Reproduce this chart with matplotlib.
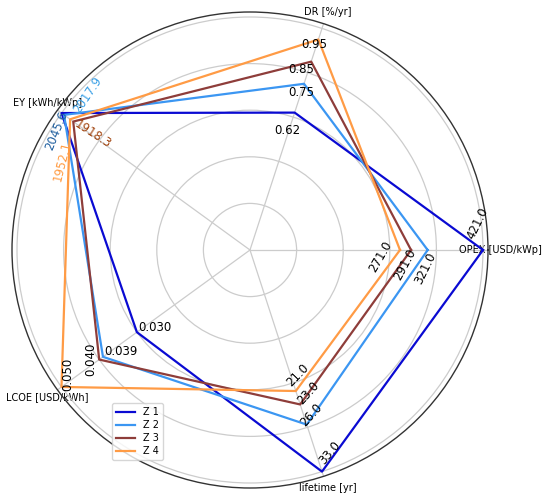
import numpy as np
import matplotlib
matplotlib.use('Agg')
import matplotlib.pyplot as plt

# axes in counter-clockwise order starting at 0 deg
axis_names = ['OPEX [USD/kWp]', 'DR [%/yr]', 'EY [kWh/kWp]', 'LCOE [USD/kWh]', 'lifetime [yr]']
axis_max = [421.0, 1.0, 2045.6, 0.050, 33.0]

series = ['Z 1', 'Z 2', 'Z 3', 'Z 4']
opex = [421.0, 321.0, 291.0, 271.0]
dr = [0.62, 0.75, 0.85, 0.95]
ey = [2045.6, 2017.9, 1918.3, 1952.1]
lcoe = [0.030, 0.039, 0.040, 0.050]
lifetime = [33.0, 26.0, 23.0, 21.0]

colors = ['#0a0ad2', '#3b96f2', '#8e3d3a', '#ff9b45']

# label formats per axis
fmt = ['{:.1f}', '{:.2f}', '{:.1f}', '{:.3f}', '{:.1f}']

# label placement (offset in px: right, down), rotation, color
lab_style = {
    (0, 0): (-5, -27, 64, 'k'), (0, 1): (-2, 18, 64, 'k'), (0, 2): (-6, 15, 62, 'k'), (0, 3): (-19, 7, 60, 'k'),
    (1, 0): (-7, 18, 0, 'k'), (1, 1): (-3, 9, 0, 'k'), (1, 2): (-10, 8, 0, 'k'), (1, 3): (-4.5, 5.5, 0, 'k'),
    (2, 0): (-5, 18, 68, '#1f5f9f'), (2, 1): (24, -20, 56, '#3aa0e6'), (2, 2): (20, 12.5, -33, '#a0420c'), (2, 3): (-8, 42, 76, '#ff9a40'),
    (3, 0): (18, -5, 0, 'k'), (3, 1): (18, -5, 0, 'k'), (3, 2): (-8, 0, 90, 'k'), (3, 3): (6, -13, 90, 'k'),
    (4, 0): (8, -19, 50, 'k'), (4, 1): (5, -10, 48, 'k'), (4, 2): (8, -11, 48, 'k'), (4, 3): (2, -16, 46, 'k'),
}

data = np.array([opex, dr, ey, lcoe, lifetime])  # shape (axes, series)
angles = np.deg2rad(np.arange(0, 360, 72))

fig = plt.figure(figsize=(5.5, 5.03), dpi=100)
ax = fig.add_axes([12/550, 15/503, 476/550, 476/503], projection='polar')

for j, name in enumerate(series):
    r = data[:, j] / np.array(axis_max)
    th = np.append(angles, angles[0])
    rr = np.append(r, r[0])
    ax.plot(th, rr, color=colors[j], lw=1.6, label=name)
    for i in range(len(angles)):
        dx, dy, rot, c = lab_style[(i, j)]
        ax.annotate(fmt[i].format(data[i, j]), xy=(angles[i], r[i]),
                    xytext=(dx*0.72, -dy*0.72), textcoords='offset points',
                    ha='center', va='center', rotation=rot,
                    rotation_mode='anchor', fontsize=8.5, color=c)

ax.set_ylim(0, 238/233)
ax.set_rgrids([0.2, 0.4, 0.6, 0.8, 1.0], labels=[])
ax.set_thetagrids(np.rad2deg(angles), axis_names, fontsize=7)
ax.tick_params(axis='x', pad=2, length=0)
ax.grid(color='#cccccc', lw=0.9)
ax.spines['polar'].set_color('#333333')
ax.spines['polar'].set_linewidth(1.0)

fig.legend(loc='lower left', bbox_to_anchor=(112/550, 43/503), fontsize=7,
           labelspacing=0.3, borderaxespad=0)

fig.savefig('out.png')
